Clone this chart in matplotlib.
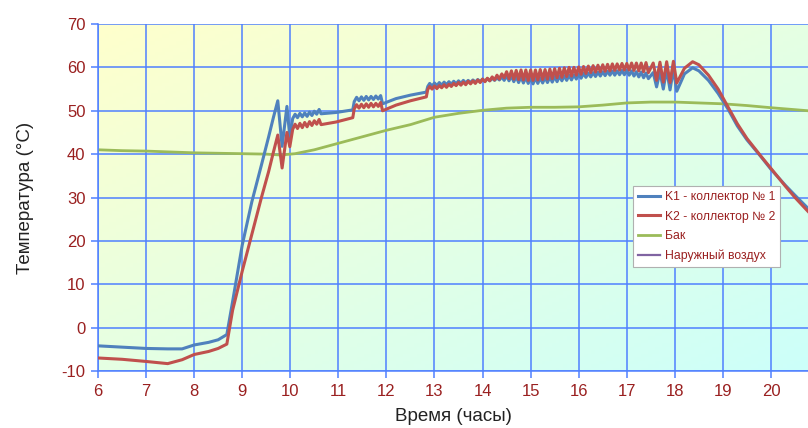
import numpy as np
import matplotlib
matplotlib.use("Agg")
import matplotlib.pyplot as plt

plt.rcParams['font.family'] = ['Liberation Sans', 'DejaVu Sans']
plt.rcParams['axes.unicode_minus'] = False

# time axis (hours) shared by both collectors
hours = [6.0, 6.5, 7.0, 7.45, 7.75, 8.0, 8.3, 8.5, 8.68, 8.8, 9.0, 9.2, 9.4, 9.55, 9.65, 9.74, 9.83, 9.93, 9.99,
         10.05, 10.1, 10.15, 10.2, 10.25, 10.3, 10.35, 10.4, 10.45, 10.5, 10.55, 10.6,
         10.64, 10.95, 11.3,
         11.33, 11.38, 11.43, 11.48, 11.53, 11.58, 11.63, 11.68, 11.73, 11.78, 11.83, 11.88,
         11.92, 12.2, 12.5, 12.83,
         12.86, 12.9, 12.95, 13.0, 13.05, 13.1, 13.15, 13.2, 13.25, 13.3, 13.35, 13.4, 13.45, 13.5, 13.55, 13.6,
         13.65, 13.7, 13.75, 13.8, 13.85, 13.9, 13.95, 14.0, 14.05, 14.1, 14.15, 14.2, 14.25, 14.3, 14.35, 14.4,
         14.45, 14.5, 14.55, 14.6, 14.65, 14.7, 14.75, 14.8, 14.85, 14.9, 14.95, 15.0, 15.05, 15.1, 15.15, 15.2,
         15.25, 15.3, 15.35, 15.4, 15.45, 15.5, 15.55, 15.6, 15.65, 15.7, 15.75, 15.8, 15.85, 15.9, 15.95, 16.0,
         16.05, 16.1, 16.15, 16.2, 16.25, 16.3, 16.35, 16.4, 16.45, 16.5, 16.55, 16.6, 16.65, 16.7, 16.75, 16.8,
         16.85, 16.9, 16.95, 17.0, 17.05, 17.1, 17.15, 17.2, 17.25, 17.3, 17.35, 17.4, 17.45,
         17.55, 17.62, 17.69, 17.76, 17.83, 17.9, 17.97, 18.04,
         18.2, 18.37, 18.5, 18.7, 18.9, 19.1, 19.3, 19.5, 19.8, 20.0, 20.3, 20.5, 20.77]

k1 = [-4.2, -4.5, -4.8, -4.9, -4.9, -4.0, -3.4, -2.8, -1.6, 6.0, 19.0, 29.0, 37.5, 44.0, 48.5, 52.3, 41.8, 51.0, 44.0,
      48.2, 49.2, 48.4, 49.4, 48.6, 49.5, 48.7, 49.7, 48.9, 49.9, 49.2, 50.3,
      49.3, 49.6, 50.2,
      52.1, 53.1, 52.3, 53.2, 52.4, 53.3, 52.5, 53.3, 52.6, 53.4, 52.7, 53.5,
      51.6, 52.8, 53.6, 54.3,
      55.6, 56.3, 55.7, 56.4, 55.8, 56.5, 55.9, 56.6, 56.0, 56.7, 56.1, 56.8, 56.2, 56.9, 56.3, 57.0,
      56.4, 57.0, 56.5, 57.1, 56.6, 57.2, 56.7, 57.3, 56.8, 57.4, 56.9, 57.5, 57.0, 57.6, 57.1, 57.8,
      57.0, 58.1, 56.9, 58.0, 56.7, 57.9, 56.5, 57.8, 56.4, 57.7, 56.3, 57.6, 56.2, 57.6, 56.3, 57.6,
      56.4, 57.7, 56.5, 57.8, 56.6, 57.9, 56.7, 58.0, 56.9, 58.1, 57.0, 58.2, 57.1, 58.3, 57.3, 58.4,
      57.5, 58.6, 57.7, 58.7, 57.8, 58.8, 57.9, 58.9, 58.0, 59.0, 58.1, 59.1, 58.2, 59.2, 58.2, 59.2,
      58.3, 59.3, 58.3, 59.3, 58.2, 59.2, 58.0, 59.0, 57.8, 58.9, 57.6, 58.7, 57.4,
      58.8, 55.5, 59.0, 55.0, 59.5, 54.8, 59.6, 54.5,
      58.5, 59.9, 59.2, 57.0, 54.0, 50.5, 46.5, 43.3, 39.3, 36.5, 32.8, 30.5, 27.5]

k2 = [-7.0, -7.3, -7.8, -8.3, -7.4, -6.2, -5.5, -4.8, -3.8, 4.0, 13.0, 21.5, 30.0, 36.0, 40.5, 44.4, 36.8, 45.0, 41.7,
      45.7, 46.9, 45.9, 47.1, 46.1, 47.3, 46.3, 47.5, 46.6, 47.7, 46.9, 48.0,
      46.8, 47.4, 48.4,
      50.4, 51.4, 50.6, 51.5, 50.7, 51.6, 50.8, 51.7, 50.9, 51.7, 51.0, 51.9,
      50.0, 51.3, 52.3, 53.2,
      54.9, 55.6, 55.0, 55.7, 55.1, 55.8, 55.3, 56.0, 55.4, 56.1, 55.6, 56.3, 55.8, 56.5, 55.9, 56.6,
      56.0, 56.8, 56.2, 56.9, 56.3, 57.1, 56.5, 57.3, 56.7, 57.5, 56.9, 57.8, 57.1, 58.2, 57.3, 58.5,
      57.6, 59.0, 57.4, 59.2, 57.3, 59.3, 57.2, 59.4, 57.1, 59.4, 57.0, 59.4, 57.0, 59.4, 57.1, 59.5,
      57.2, 59.5, 57.3, 59.6, 57.4, 59.7, 57.6, 59.8, 57.7, 59.9, 57.9, 60.0, 58.0, 60.0, 58.2, 60.1,
      58.4, 60.2, 58.6, 60.3, 58.8, 60.4, 58.9, 60.5, 59.0, 60.6, 59.1, 60.7, 59.2, 60.8, 59.3, 60.8,
      59.4, 60.9, 59.4, 60.9, 59.4, 61.0, 59.3, 61.0, 59.2, 61.0, 59.0, 61.1, 58.8,
      61.0, 57.0, 61.2, 56.6, 61.3, 56.5, 61.4, 56.4,
      59.8, 61.3, 60.6, 58.2, 55.0, 51.0, 47.0, 43.6, 39.4, 36.7, 32.6, 30.0, 26.8]

tank_hours = [6, 6.5, 7, 7.5, 8, 8.5, 9, 9.5, 9.8, 10.1, 10.5, 11, 11.5, 12, 12.5, 13, 13.5, 14, 14.5,
              15, 15.5, 16, 16.5, 17, 17.5, 18, 18.5, 19, 19.5, 20, 20.77]
tank = [41.0, 40.8, 40.7, 40.5, 40.3, 40.2, 40.1, 40.0, 39.8, 40.1, 41.0, 42.5, 44.0, 45.5, 46.8, 48.5, 49.4,
        50.1, 50.6, 50.8, 50.8, 50.9, 51.3, 51.8, 52.0, 52.0, 51.8, 51.6, 51.2, 50.7, 50.0]

# outside air series has no points in the visible range
air_hours = []
air = []

x_ticks = list(range(6, 21))
y_ticks = list(range(-10, 71, 10))

grid_blue = '#4f80ff'
tick_red = '#9a2020'

fig = plt.figure(figsize=(8.08, 4.28), dpi=100)
ax = fig.add_axes([98 / 808, 57 / 428, 710 / 808, 347 / 428])

x0, x1, y0, y1 = 6, 20.77, -10, 70
# diagonal gradient background: pale yellow (top-left) to pale cyan (bottom-right)
gx, gy = np.meshgrid(np.linspace(0, 1, 200), np.linspace(0, 1, 100))
tt = (gx + gy) / 2
c_a = np.array([255, 255, 204]) / 255
c_b = np.array([204, 255, 250]) / 255
img = c_a[None, None, :] * (1 - tt[..., None]) + c_b[None, None, :] * tt[..., None]
ax.imshow(img, extent=[x0, x1, y0, y1], origin='upper', aspect='auto', zorder=0)

ax.plot(hours, k1, color='#4f81bd', lw=2.2, label='K1 - коллектор № 1', zorder=3)
ax.plot(hours, k2, color='#c0504d', lw=2.2, label='K2 - коллектор № 2', zorder=3)
ax.plot(tank_hours, tank, color='#9bbb59', lw=2.0, label='Бак', zorder=2)
ax.plot(air_hours, air, color='#8064a2', lw=1.6, label='Наружный воздух', zorder=2)

ax.set_xlim(x0, x1)
ax.set_ylim(y0, y1)
ax.set_xticks(x_ticks)
ax.set_yticks(y_ticks)
ax.grid(True, color=grid_blue, lw=1.1, zorder=1)
ax.set_axisbelow(True)
for s in ['top', 'right']:
    ax.spines[s].set_visible(False)
for s in ['left', 'bottom']:
    ax.spines[s].set_color(grid_blue)
    ax.spines[s].set_linewidth(1.1)
ax.tick_params(colors=tick_red, labelsize=12, length=5, width=1.1, pad=4)
ax.tick_params(axis='both', color=grid_blue)

ax.set_xlabel('Время (часы)', fontsize=13.5, color='#222222', labelpad=7)
ax.set_ylabel('Температура (°C)', fontsize=13.5, color='#222222', labelpad=20)

leg = ax.legend(loc='lower left', bbox_to_anchor=(0.745, 0.283), fontsize=8.8,
                labelcolor=tick_red, frameon=True, fancybox=False, framealpha=1,
                edgecolor='#b0b0b0', handlelength=1.8, handletextpad=0.4,
                borderpad=0.4, labelspacing=0.6)
leg.get_frame().set_linewidth(0.8)

fig.savefig('out.png', dpi=100)
